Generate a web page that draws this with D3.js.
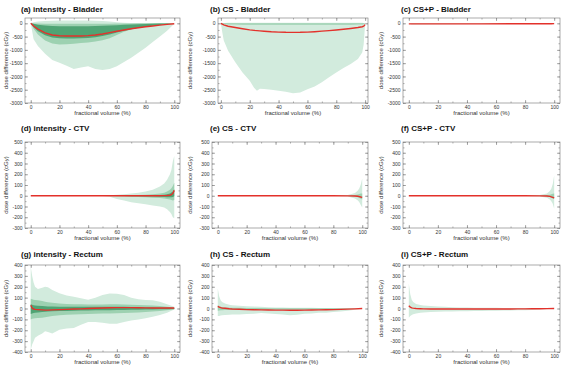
<!DOCTYPE html>
<html>
<head>
<meta charset="utf-8">
<script src="https://cdn.jsdelivr.net/npm/d3@7"></script>
<style>
  body { margin: 0; background: #fff; }
  svg { display: block; font-family: "Liberation Sans", Arial, sans-serif; }
  .tick text { fill: #333; }
</style>
</head>
<body>
<svg id="chart" width="561" height="367"></svg>
<script>
// ---- data (fractional volume %, dose difference cGy) ----
// (a) intensity - Bladder
var aVol  = [0, 2, 5, 10, 15, 20, 25, 30, 35, 40, 45, 50, 55, 60, 65, 70, 75, 80, 85, 90, 95, 100];
var aMin  = [0, -600, -850, -1150, -1380, -1480, -1600, -1720, -1660, -1620, -1720, -1760, -1720, -1620, -1460, -1300, -1110, -920, -700, -500, -280, -20];
var aMax  = [0, 40, 70, 90, 100, 110, 110, 110, 110, 110, 100, 90, 70, 40, 20, 10, 5, 0, 0, 0, 0, 0];
var aP5   = [0, -200, -420, -650, -760, -800, -790, -770, -740, -720, -680, -640, -560, -440, -320, -230, -170, -120, -80, -50, -25, 0];
var aP95  = [0, -5, -10, -15, -20, -20, -20, -20, -20, -20, -20, -20, -15, -10, -5, -5, 0, 0, 0, 0, 0, 0];
var aP25  = [0, -150, -300, -450, -530, -560, -570, -570, -560, -550, -520, -480, -420, -350, -280, -220, -170, -130, -90, -60, -30, 0];
var aP75  = [0, -20, -50, -80, -100, -110, -110, -110, -110, -110, -100, -90, -80, -70, -55, -45, -35, -25, -15, -10, -5, 0];
var aMean = [0, -100, -220, -360, -440, -470, -480, -480, -475, -465, -440, -400, -350, -300, -250, -205, -165, -130, -100, -70, -40, -15];

// (b) CS - Bladder
var bVol  = [0, 1, 2, 5, 10, 15, 20, 23, 25, 27, 30, 35, 40, 45, 50, 55, 60, 65, 70, 75, 80, 85, 90, 95, 98, 99, 100];
var bMin  = [0, -350, -650, -1030, -1470, -1850, -2160, -2430, -2540, -2460, -2470, -2500, -2540, -2580, -2630, -2600, -2480, -2380, -2220, -2030, -1850, -1680, -1530, -1340, -1100, -800, -30];
var bMax  = [0, 10, 15, 20, 20, 20, 20, 20, 20, 20, 20, 20, 20, 20, 20, 20, 20, 20, 20, 20, 20, 20, 20, 20, 20, 15, 0];
var bP5   = [0, -20, -30, -40, -45, -50, -50, -50, -50, -50, -50, -50, -50, -50, -50, -50, -50, -50, -50, -50, -50, -50, -50, -45, -40, -35, 0];
var bP95  = [0, 5, 5, 5, 5, 5, 5, 5, 5, 5, 5, 5, 5, 5, 5, 5, 5, 5, 5, 5, 5, 5, 5, 5, 5, 5, 0];
var bMean = [0, -30, -60, -110, -160, -205, -245, -265, -275, -285, -300, -320, -330, -338, -340, -338, -330, -315, -295, -275, -250, -225, -195, -160, -130, -110, -50];

// (c) CS+P - Bladder
var cVol  = [0, 2, 50, 98, 100];
var cMin  = [0, -40, -30, -20, 0];
var cMax  = [0, 10, 10, 5, 0];
var cMean = [-20, -20, -20, -15, -10];

// (d) intensity - CTV
var dVol  = [0, 10, 20, 30, 40, 50, 55, 60, 65, 70, 75, 80, 85, 90, 93, 95, 97, 98, 99, 100];
var dMin  = [0, 0, 0, 0, 0, -2, -10, -30, -45, -60, -70, -80, -90, -100, -110, -125, -150, -170, -200, -210];
var dMax  = [0, 0, 0, 0, 0, 2, 5, 10, 15, 20, 28, 40, 55, 85, 115, 150, 200, 240, 320, 370];
var dP5   = [0, 0, 0, 0, 0, 0, -2, -5, -8, -10, -12, -15, -18, -22, -26, -30, -35, -40, -45, -40];
var dP95  = [0, 0, 0, 0, 0, 0, 2, 3, 5, 6, 8, 10, 14, 20, 28, 40, 55, 70, 90, 120];
var dP25  = [0, 0, 0, 0, 0, 0, -1, -2, -3, -4, -5, -6, -8, -10, -12, -13, -14, -15, -12, -5];
var dP75  = [0, 0, 0, 0, 0, 0, 1, 2, 2, 3, 4, 5, 6, 8, 10, 15, 20, 30, 40, 60];
var dMean = [0, 0, 0, 0, 0, 0, 0, 0, 0, 0, 0, 0, 0, 0, 1, 2, 5, 10, 22, 50];

// (e) CS - CTV
var eVol  = [0, 50, 80, 90, 95, 97, 98, 99, 100];
var eMin  = [0, 0, -2, -8, -25, -45, -60, -85, -110];
var eMax  = [0, 0, 2, 8, 25, 50, 70, 105, 160];
var eP5   = [0, 0, -1, -3, -8, -15, -20, -28, -35];
var eP95  = [0, 0, 1, 3, 8, 12, 16, 20, 20];
var eMean = [0, 0, 0, -1, -3, -5, -8, -12, -15];

// (f) CS+P - CTV
var fVol  = [0, 50, 80, 90, 95, 97, 98, 99, 100];
var fMin  = [0, 0, -2, -6, -18, -35, -50, -75, -120];
var fMax  = [0, 0, 2, 6, 20, 45, 65, 110, 190];
var fP5   = [0, 0, -1, -2, -6, -12, -18, -25, -30];
var fP95  = [0, 0, 1, 2, 6, 10, 14, 18, 20];
var fMean = [0, 0, 0, -1, -3, -6, -10, -15, -20];

// (g) intensity - Rectum
var gVol  = [0, 1, 2, 3, 5, 8, 10, 12, 15, 20, 25, 30, 35, 40, 45, 50, 55, 60, 65, 70, 75, 80, 85, 90, 95, 100];
var gMin  = [-380, -330, -300, -270, -250, -230, -210, -215, -230, -195, -185, -180, -150, -125, -125, -130, -140, -140, -125, -110, -100, -90, -75, -60, -40, -10];
var gMax  = [385, 300, 240, 200, 180, 190, 200, 195, 170, 140, 120, 108, 95, 80, 100, 125, 138, 135, 123, 100, 85, 78, 75, 62, 40, 15];
var gP5   = [-100, -95, -92, -90, -88, -84, -80, -76, -70, -62, -58, -55, -52, -50, -48, -46, -45, -44, -42, -40, -36, -32, -28, -22, -16, -10];
var gP95  = [90, 85, 80, 78, 75, 68, 62, 58, 52, 46, 42, 40, 38, 36, 36, 37, 38, 38, 37, 35, 33, 30, 27, 22, 16, 10];
var gP25  = [-50, -45, -42, -40, -36, -32, -30, -28, -26, -24, -22, -20, -19, -18, -17, -16, -15, -14, -13, -12, -11, -10, -9, -8, -6, -5];
var gP75  = [40, 35, 30, 28, 25, 22, 20, 19, 18, 17, 16, 16, 15, 15, 15, 16, 16, 16, 15, 14, 12, 10, 9, 8, 6, 5];
var gMean = [30, 5, -5, -8, -10, -13, -15, -15, -13, -10, -8, -5, -3, 0, 2, 5, 7, 8, 8, 8, 7, 6, 5, 5, 5, 5];

// (h) CS - Rectum
var hVol  = [0, 1, 2, 3, 5, 8, 10, 15, 20, 25, 30, 35, 40, 45, 50, 55, 60, 65, 70, 75, 80, 85, 90, 95, 100];
var hMin  = [-70, -68, -65, -62, -60, -58, -55, -55, -50, -48, -42, -45, -50, -55, -62, -58, -48, -45, -40, -38, -32, -28, -20, -12, -2];
var hMax  = [185, 110, 75, 60, 45, 35, 30, 25, 20, 18, 15, 12, 10, 10, 8, 8, 6, 6, 5, 5, 5, 4, 3, 2, 0];
var hP5   = [-20, -18, -16, -15, -14, -14, -13, -13, -12, -12, -12, -12, -12, -12, -12, -12, -11, -10, -10, -9, -8, -7, -5, -3, 0];
var hP95  = [30, 20, 15, 12, 10, 8, 7, 6, 5, 4, 4, 3, 3, 3, 3, 2, 2, 2, 2, 2, 2, 1, 1, 1, 0];
var hMean = [20, 12, 8, 5, 2, -2, -4, -7, -10, -12, -13, -14, -15, -15, -16, -16, -15, -14, -13, -11, -10, -8, -6, -3, 0];

// (i) CS+P - Rectum
var iVol  = [0, 1, 2, 3, 5, 8, 10, 15, 20, 25, 30, 35, 40, 45, 50, 55, 60, 65, 70, 75, 80, 85, 90, 95, 100];
var iMin  = [-85, -70, -60, -52, -45, -40, -36, -32, -30, -28, -27, -26, -25, -24, -22, -21, -20, -19, -18, -17, -15, -13, -10, -6, 0];
var iMax  = [230, 130, 80, 60, 42, 32, 28, 22, 18, 15, 12, 10, 9, 8, 7, 6, 6, 5, 5, 5, 4, 4, 3, 2, 0];
var iMean = [25, 12, 6, 3, 0, -2, -3, -4, -5, -5, -5, -5, -5, -5, -5, -5, -4, -4, -4, -3, -3, -2, -2, -1, 0];

var xTicks = [0, 20, 40, 60, 80, 100];
var yTicksByRow = [
    [0, -500, -1000, -1500, -2000, -2500, -3000],
    [500, 400, 300, 200, 100, 0, -100, -200, -300],
    [400, 300, 200, 100, 0, -100, -200, -300, -400]
];

// ---- layout ----
var rowTop = [18, 142, 265];
var rowBottom = [103, 228, 352];
var colLeft = [25, 212, 403];
var colRight = [180, 368, 560];
var colTitleX = [21, 210, 401];
var colYLabelX = [6, 190, 381];
var titleY = [12, 131, 257];
var yDomains = [[-3000, 200], [-300, 500], [-400, 400]];
var yMinorStep = [250, 50, 50];

var bandColors = ["#d2ebdd", "#9dd1b1", "#4fa474"];
var meanColor = "#e3312b";

var panels = [
    {title: "(a) intensity - Bladder", row: 0, col: 0, vol: aVol, bands: [[aMin, aMax], [aP5, aP95], [aP25, aP75]], mean: aMean},
    {title: "(b) CS - Bladder", row: 0, col: 1, left: 218, xDomain: [-2, 102], vol: bVol, bands: [[bMin, bMax], [bP5, bP95]], mean: bMean},
    {title: "(c) CS+P - Bladder", row: 0, col: 2, vol: cVol, bands: [[cMin, cMax]], mean: cMean},
    {title: "(d) intensity - CTV", row: 1, col: 0, vol: dVol, bands: [[dMin, dMax], [dP5, dP95], [dP25, dP75]], mean: dMean},
    {title: "(e) CS - CTV", row: 1, col: 1, vol: eVol, bands: [[eMin, eMax], [eP5, eP95]], mean: eMean},
    {title: "(f) CS+P - CTV", row: 1, col: 2, vol: fVol, bands: [[fMin, fMax], [fP5, fP95]], mean: fMean},
    {title: "(g) intensity - Rectum", row: 2, col: 0, vol: gVol, bands: [[gMin, gMax], [gP5, gP95], [gP25, gP75]], mean: gMean},
    {title: "(h) CS - Rectum", row: 2, col: 1, vol: hVol, bands: [[hMin, hMax], [hP5, hP95]], mean: hMean},
    {title: "(i) CS+P - Rectum", row: 2, col: 2, vol: iVol, bands: [[iMin, iMax]], mean: iMean}
];

var svg = d3.select("#chart");
var plainNum = function (d) { return String(d); };

panels.forEach(function (p, k) {
    var left = p.left || colLeft[p.col];
    var right = colRight[p.col];
    var top = rowTop[p.row];
    var bottom = rowBottom[p.row];
    var w = right - left;
    var h = bottom - top;

    var x = d3.scaleLinear().domain(p.xDomain || [-4, 104]).range([0, w]);
    var y = d3.scaleLinear().domain(yDomains[p.row]).range([h, 0]);

    var g = svg.append("g").attr("transform", "translate(" + left + "," + top + ")");

    g.append("clipPath").attr("id", "clip" + k)
        .append("rect").attr("width", w).attr("height", h);

    var plot = g.append("g").attr("clip-path", "url(#clip" + k + ")");

    // bands: min/max, 5-95, 25-75
    p.bands.forEach(function (b, j) {
        var area = d3.area()
            .x(function (d, i) { return x(p.vol[i]); })
            .y0(function (d, i) { return y(b[0][i]); })
            .y1(function (d, i) { return y(b[1][i]); });
        plot.append("path").datum(p.vol)
            .attr("d", area)
            .attr("fill", bandColors[j]);
    });

    var line = d3.line()
        .x(function (d, i) { return x(p.vol[i]); })
        .y(function (d) { return y(d); });
    plot.append("path").datum(p.mean)
        .attr("d", line)
        .attr("fill", "none")
        .attr("stroke", meanColor)
        .attr("stroke-width", 1.4);

    // axes, ticks inward on all four sides
    var yTicks = yTicksByRow[p.row];
    var yMinor = d3.range(yDomains[p.row][0], yDomains[p.row][1] + 1, yMinorStep[p.row]);
    var xMinor = d3.range(0, 101, 10);

    function styleAxis(sel) {
        sel.select(".domain").remove();
        sel.selectAll("line").attr("stroke", "#777").attr("stroke-width", 0.6);
        sel.selectAll("text").style("font-size", "5px");
    }

    g.append("g").attr("transform", "translate(0," + h + ")")
        .call(d3.axisBottom(x).tickValues(xMinor).tickSize(-1.5).tickFormat("")).call(styleAxis);
    g.append("g").attr("transform", "translate(0," + h + ")")
        .call(d3.axisBottom(x).tickValues(xTicks).tickSize(-3).tickPadding(2.5).tickFormat(plainNum)).call(styleAxis);
    g.append("g")
        .call(d3.axisTop(x).tickValues(xMinor).tickSize(-1.5).tickFormat("")).call(styleAxis);
    g.append("g")
        .call(d3.axisTop(x).tickValues(xTicks).tickSize(-3).tickFormat("")).call(styleAxis);

    g.append("g")
        .call(d3.axisLeft(y).tickValues(yMinor).tickSize(-1.5).tickFormat("")).call(styleAxis);
    g.append("g")
        .call(d3.axisLeft(y).tickValues(yTicks).tickSize(-3).tickPadding(2.5).tickFormat(plainNum)).call(styleAxis);
    g.append("g").attr("transform", "translate(" + w + ",0)")
        .call(d3.axisRight(y).tickValues(yMinor).tickSize(-1.5).tickFormat("")).call(styleAxis);
    g.append("g").attr("transform", "translate(" + w + ",0)")
        .call(d3.axisRight(y).tickValues(yTicks).tickSize(-3).tickFormat("")).call(styleAxis);

    g.append("rect")
        .attr("width", w).attr("height", h)
        .attr("fill", "none")
        .attr("stroke", "#888")
        .attr("stroke-width", 0.7);

    // labels
    svg.append("text")
        .attr("x", colTitleX[p.col]).attr("y", titleY[p.row])
        .style("font-size", "8px").style("font-weight", "bold")
        .attr("fill", "#111")
        .text(p.title);

    svg.append("text")
        .attr("x", left + w / 2).attr("y", bottom + 11.5)
        .attr("text-anchor", "middle")
        .style("font-size", "6px").attr("fill", "#333")
        .text("fractional volume (%)");

    svg.append("text")
        .attr("transform", "translate(" + (colYLabelX[p.col] + 2) + "," + (top + h / 2) + ") rotate(-90)")
        .attr("text-anchor", "middle")
        .style("font-size", "6px").attr("fill", "#333")
        .text("dose difference (cGy)");
});
</script>
</body>
</html>
